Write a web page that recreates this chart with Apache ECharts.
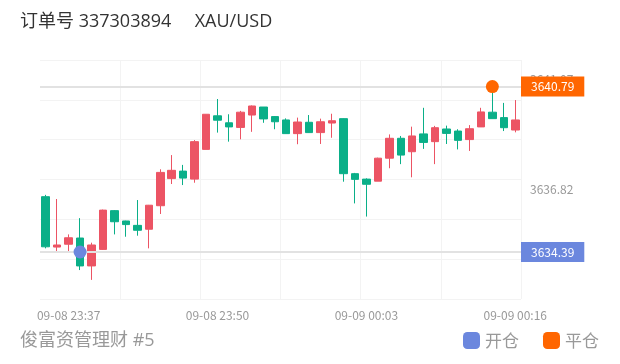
<!DOCTYPE html>
<html>
<head>
<meta charset="utf-8">
<script src="https://cdn.jsdelivr.net/npm/echarts@6.0.0/dist/echarts.min.js"></script>
<style>
html,body{margin:0;padding:0;background:#fff;}
#chart{width:620px;height:364px;}
</style>
</head>
<body>
<div id="chart"></div>
<script>
const titleText = '订单号 337303894     XAU/USD';
const footerText = '俊富资管理财 #5';
const categories = [
  '09-08 23:35','09-08 23:36','09-08 23:37','09-08 23:38','09-08 23:39','09-08 23:40','09-08 23:41',
  '09-08 23:42','09-08 23:43','09-08 23:44','09-08 23:45','09-08 23:46','09-08 23:47','09-08 23:48',
  '09-08 23:49','09-08 23:50','09-08 23:51','09-08 23:52','09-08 23:53','09-08 23:54','09-08 23:55',
  '09-08 23:56','09-08 23:57','09-08 23:58','09-08 23:59','09-09 00:00','09-09 00:01','09-09 00:02',
  '09-09 00:03','09-09 00:04','09-09 00:05','09-09 00:06','09-09 00:07','09-09 00:08','09-09 00:09',
  '09-09 00:10','09-09 00:11','09-09 00:12','09-09 00:13','09-09 00:14','09-09 00:15','09-09 00:16'
];
const opens  = [3636.53,3634.58,3634.69,3634.93,3633.85,3634.49,3635.99,3635.59,3635.42,3635.27,3636.18,3637.23,3637.52,3637.21,3638.36,3639.66,3639.39,3639.21,3639.69,3640.00,3639.63,3639.50,3638.97,3639.41,3639.01,3639.38,3639.55,3637.42,3637.21,3637.13,3638.02,3638.79,3638.27,3638.96,3638.66,3639.15,3639.07,3638.74,3639.23,3639.80,3639.59,3639.11];
const closes = [3634.59,3634.66,3634.94,3633.85,3634.66,3636.01,3635.56,3635.45,3635.23,3636.20,3637.47,3637.55,3637.25,3638.66,3639.72,3639.49,3639.23,3639.80,3640.04,3639.54,3639.43,3638.97,3639.42,3639.01,3639.43,3639.47,3637.42,3637.20,3637.01,3638.02,3638.79,3638.14,3638.88,3638.63,3639.20,3638.98,3638.71,3639.16,3639.81,3639.55,3639.20,3639.50];
const lows   = [3634.53,3634.38,3634.36,3633.69,3633.31,3634.47,3635.07,3634.98,3635.02,3634.53,3635.86,3637.02,3636.98,3637.07,3638.36,3639.01,3638.66,3638.75,3639.04,3639.39,3639.14,3638.97,3638.56,3639.00,3638.57,3638.81,3637.11,3636.27,3635.76,3637.13,3637.63,3637.79,3637.28,3638.38,3637.79,3638.57,3638.36,3638.30,3639.23,3639.55,3639.07,3639.02];
const highs  = [3636.60,3636.44,3635.07,3635.70,3634.75,3636.03,3636.01,3635.60,3636.40,3636.21,3637.59,3638.14,3637.76,3638.72,3639.72,3640.31,3639.72,3639.85,3640.06,3640.00,3639.65,3639.56,3639.59,3639.69,3639.55,3639.74,3639.56,3637.45,3637.24,3638.04,3638.94,3638.88,3639.24,3639.97,3639.27,3639.28,3639.14,3639.30,3639.97,3640.79,3640.16,3640.27];
const openTime = '09-08 23:38';
const openPrice = 3634.39;
const closeTime = '09-09 00:14';
const closePrice = 3640.79;
const yMin = 3632.57;
const yMax = 3641.82;
const yStep = 4.25;
const legendNames = ['开仓', '平仓'];

const UP = '#ec5464', DOWN = '#0aaf88', BLUE = '#6b87de', ORANGE = '#ff6600';
const candleData = categories.map((c, i) => [opens[i], closes[i], lows[i], highs[i]]);

const chart = echarts.init(document.getElementById('chart'), null, {renderer: 'canvas'});
chart.setOption({
  animation: false,
  backgroundColor: '#fff',
  textStyle: {fontFamily: '"Noto Sans CJK SC", "Noto Sans", sans-serif'},
  title: [
    {text: titleText, left: 15, top: 8, padding: 5,
     textStyle: {fontSize: 18, fontWeight: 'normal', color: '#333',
       fontFamily: '"Open Sans", "Noto Sans CJK SC", sans-serif'}},
    {text: footerText, left: 15, top: 327, padding: 5,
     textStyle: {fontSize: 18, fontWeight: 'normal', color: '#999',
       fontFamily: '"Open Sans", "Noto Sans CJK SC", sans-serif'}}
  ],
  legend: {
    data: legendNames, left: 458, top: 327, icon: 'roundRect',
    itemWidth: 17, itemHeight: 17, itemGap: 24,
    textStyle: {fontSize: 17, color: '#999'}
  },
  grid: {left: 40, right: 99, top: 60, bottom: 65, containLabel: false},
  xAxis: [
    {type: 'category', data: categories, boundaryGap: true,
     axisLine: {show: false}, axisTick: {show: false}, splitLine: {show: false},
     axisLabel: {color: '#999', fontSize: 12, margin: 10,
       interval: (idx) => (idx - 2) % 13 === 0}},
    {type: 'value', min: 0, max: 6, interval: 1, show: true, position: 'bottom',
     axisLine: {show: false}, axisTick: {show: false}, axisLabel: {show: false},
     splitLine: {show: true, showMinLine: false, lineStyle: {color: '#f3f3f3', width: 1}}}
  ],
  yAxis: [
    {type: 'value', position: 'right', min: yMin, max: yMax, interval: yStep, scale: true,
     axisLine: {show: false}, axisTick: {show: false}, splitLine: {show: false},
     axisLabel: {color: '#999', fontSize: 12, margin: 9, showMinLabel: false, showMaxLabel: false,
       formatter: (v) => v.toFixed(2)}},
    {type: 'value', min: 0, max: 6, interval: 1, position: 'left',
     axisLine: {show: false}, axisTick: {show: false}, axisLabel: {show: false},
     splitLine: {show: true, lineStyle: {color: '#f3f3f3', width: 1}}}
  ],
  series: [
    {type: 'candlestick', name: 'K', xAxisIndex: 0, yAxisIndex: 0, data: candleData,
     barWidth: 8,
     itemStyle: {color: UP, color0: DOWN, borderColor: UP, borderColor0: DOWN, borderWidth: 1},
     markLine: {
       symbol: ['none', 'none'], silent: true,
       lineStyle: {color: '#e2e2e2', width: 2, type: 'solid'},
       label: {position: 'end', distance: 0, color: '#fff', fontSize: 12,
         padding: [4, 10, 4, 10], formatter: (p) => p.value.toFixed(2)},
       data: [
         {yAxis: closePrice, label: {backgroundColor: ORANGE}},
         {yAxis: openPrice, label: {backgroundColor: BLUE}}
       ]
     }},
    {type: 'scatter', name: legendNames[0], xAxisIndex: 0, yAxisIndex: 0,
     symbolSize: 13, itemStyle: {color: BLUE, opacity: 1}, z: 5,
     data: [[openTime, openPrice]]},
    {type: 'scatter', name: legendNames[1], xAxisIndex: 0, yAxisIndex: 0,
     symbolSize: 13, itemStyle: {color: ORANGE, opacity: 1}, z: 5,
     data: [[closeTime, closePrice]]}
  ]
});
</script>
</body>
</html>
